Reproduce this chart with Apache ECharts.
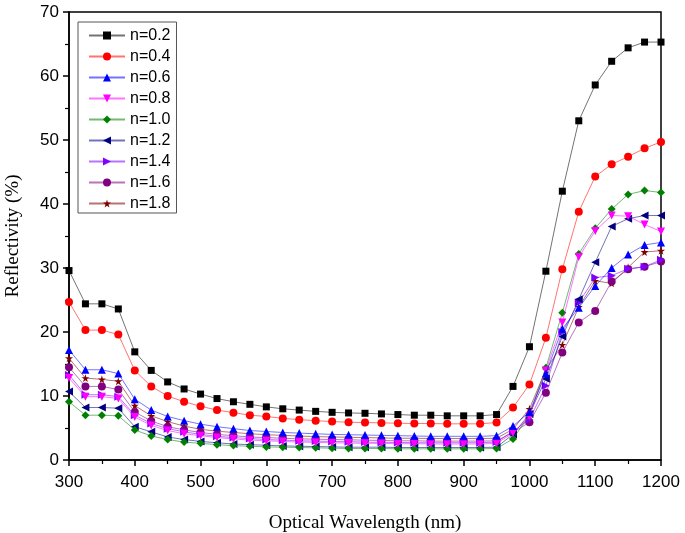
<!DOCTYPE html>
<html>
<head>
<meta charset="utf-8">
<script src="https://cdn.jsdelivr.net/npm/echarts@6/dist/echarts.min.js"></script>
<style>
html,body{margin:0;padding:0;background:#fff;}
#chart{width:685px;height:533px;}
</style>
</head>
<body>
<div id="chart"></div>
<script>
var wavelengths = [300,325,350,375,400,425,450,475,500,525,550,575,600,625,650,675,700,725,750,775,800,825,850,875,900,925,950,975,1000,1025,1050,1075,1100,1125,1150,1175,1200];

var n02 = [29.6,24.4,24.4,23.6,16.9,14.0,12.2,11.1,10.3,9.6,9.1,8.7,8.3,8.0,7.8,7.6,7.45,7.35,7.3,7.2,7.1,7.0,7.0,6.9,6.9,6.9,7.1,11.5,17.7,29.5,42.0,53.0,58.6,62.3,64.4,65.3,65.3];
var n04 = [24.7,20.3,20.3,19.6,14.0,11.5,10.0,9.1,8.4,7.8,7.4,7.0,6.8,6.5,6.3,6.15,6.0,5.9,5.85,5.8,5.75,5.7,5.7,5.65,5.65,5.65,5.85,8.2,11.8,19.1,29.8,38.8,44.3,46.2,47.4,48.7,49.7];
var n06 = [17.2,14.1,14.1,13.5,9.5,7.8,6.8,6.15,5.6,5.2,4.9,4.6,4.45,4.3,4.2,4.1,4.0,3.95,3.9,3.85,3.8,3.75,3.7,3.7,3.7,3.7,3.8,5.3,7.5,13.5,20.5,23.8,27.2,30.0,32.1,33.6,34.0];
var n08 = [12.8,9.9,9.9,9.6,6.7,5.4,4.6,4.1,3.8,3.5,3.3,3.1,3.0,2.9,2.8,2.75,2.7,2.65,2.6,2.6,2.55,2.55,2.5,2.5,2.5,2.5,2.6,4.2,6.8,14.0,21.5,31.7,35.8,38.2,38.1,36.8,35.7];
var n10 = [9.1,7.0,7.0,6.9,4.7,3.75,3.2,2.8,2.6,2.4,2.25,2.15,2.05,2.0,1.95,1.9,1.85,1.8,1.8,1.8,1.75,1.75,1.75,1.75,1.75,1.75,1.8,3.3,7.0,14.4,23.0,32.2,36.2,39.2,41.5,42.1,41.8];
var n12 = [10.7,8.2,8.2,8.1,5.2,4.4,3.6,3.2,2.9,2.7,2.5,2.4,2.3,2.2,2.15,2.1,2.05,2.0,2.0,2.0,1.95,1.95,1.95,1.95,1.95,1.95,2.0,4.0,7.2,12.7,19.3,25.1,30.9,36.5,37.7,38.2,38.2];
var n14 = [13.3,10.2,10.2,9.9,7.0,5.7,4.9,4.4,4.0,3.7,3.5,3.35,3.2,3.1,3.0,2.95,2.9,2.85,2.8,2.75,2.75,2.7,2.7,2.7,2.7,2.7,2.8,4.5,6.3,11.6,20.0,24.6,28.5,28.8,29.9,30.2,31.3];
var n16 = [14.5,11.5,11.5,11.0,7.5,6.1,5.2,4.7,4.3,4.0,3.8,3.6,3.5,3.4,3.3,3.25,3.2,3.15,3.1,3.05,3.0,3.0,2.95,2.95,2.95,2.95,3.0,4.3,5.9,10.5,16.8,21.5,23.3,27.9,29.8,30.2,31.0];
var n18 = [15.9,12.8,12.6,12.3,8.5,6.9,6.0,5.3,4.8,4.5,4.3,4.1,3.95,3.85,3.75,3.65,3.6,3.55,3.5,3.45,3.4,3.4,3.35,3.35,3.35,3.35,3.4,4.8,8.0,14.1,18.0,23.9,28.0,27.6,30.1,32.5,32.7];

var seriesNames = ['n=0.2','n=0.4','n=0.6','n=0.8','n=1.0','n=1.2','n=1.4','n=1.6','n=1.8'];
var seriesValues = [n02,n04,n06,n08,n10,n12,n14,n16,n18];

var xTickMin = 300, xTickMax = 1200, xTickStep = 100;
var yTickMin = 0, yTickMax = 70, yTickStep = 10;

var styles = [
  {color:'#000000', symbol:'rect', rot:0, size:7},
  {color:'#ff0000', symbol:'circle', rot:0, size:8},
  {color:'#0000ff', symbol:'triangle', rot:0, size:8},
  {color:'#ff00ff', symbol:'triangle', rot:180, size:8},
  {color:'#008000', symbol:'diamond', rot:0, size:8},
  {color:'#000080', symbol:'triangle', rot:90, size:8},
  {color:'#8000ff', symbol:'triangle', rot:-90, size:8},
  {color:'#800080', symbol:'circle', rot:0, size:8},
  {color:'#800000', symbol:'path://M50,0 L61,35 L98,35 L68,57 L79,91 L50,70 L21,91 L32,57 L2,35 L39,35 Z', rot:0, size:8}
];

var series = seriesNames.map(function(name, i){
  var st = styles[i];
  return {
    name: name,
    type: 'line',
    data: wavelengths.map(function(w, j){ return [w, seriesValues[i][j]]; }),
    symbol: st.symbol,
    symbolRotate: st.rot,
    symbolSize: st.size,
    showAllSymbol: true,
    lineStyle: {color: st.color, width: 1, opacity: 0.55},
    itemStyle: {color: st.color, opacity: 1},
    emphasis: {disabled: true},
    animation: false,
    z: 10 - i
  };
});

var chart = echarts.init(document.getElementById('chart'), null, {renderer:'canvas'});
chart.setOption({
  backgroundColor: '#ffffff',
  animation: false,
  grid: {left: 69, right: 24, top: 12, bottom: 73, show: true, borderColor: '#000', borderWidth: 1.5, backgroundColor: 'transparent', containLabel: false, outerBoundsMode: 'none'},
  legend: {
    orient: 'vertical',
    left: 78, top: 22,
    data: seriesNames,
    itemWidth: 36, itemHeight: 10, itemGap: 4,
    padding: [5, 6, 1, 10],
    borderColor: '#555', borderWidth: 1,
    textStyle: {fontFamily: 'Liberation Sans, Arial', fontSize: 16, color: '#000', lineHeight: 17},
    selectedMode: false
  },
  xAxis: {
    type: 'value', min: xTickMin, max: xTickMax, interval: xTickStep,
    name: 'Optical Wavelength (nm)', nameLocation: 'middle', nameGap: 54,
    nameTextStyle: {fontFamily: 'Liberation Serif, Times New Roman', fontSize: 19, color: '#000'},
    axisLine: {show: true, lineStyle: {color: '#000', width: 1.5}},
    axisTick: {show: true, inside: false, length: 6, lineStyle: {color: '#000', width: 1.5}},
    minorTick: {show: true, splitNumber: 2, length: 4, lineStyle: {color: '#000', width: 1.2}},
    axisLabel: {fontFamily: 'Liberation Sans, Arial', fontSize: 17, color: '#000', margin: 14, formatter: function(v){ return String(v); }},
    splitLine: {show: false}
  },
  yAxis: {
    type: 'value', min: yTickMin, max: yTickMax, interval: yTickStep,
    name: 'Reflectivity (%)', nameLocation: 'middle', nameGap: 46, nameRotate: 90,
    nameTextStyle: {fontFamily: 'Liberation Serif, Times New Roman', fontSize: 19, color: '#000'},
    axisLine: {show: true, lineStyle: {color: '#000', width: 1.5}},
    axisTick: {show: true, inside: false, length: 6, lineStyle: {color: '#000', width: 1.5}},
    minorTick: {show: true, splitNumber: 2, length: 4, lineStyle: {color: '#000', width: 1.2}},
    axisLabel: {fontFamily: 'Liberation Sans, Arial', fontSize: 17, color: '#000', margin: 10},
    splitLine: {show: false}
  },
  series: series
});
</script>
</body>
</html>
